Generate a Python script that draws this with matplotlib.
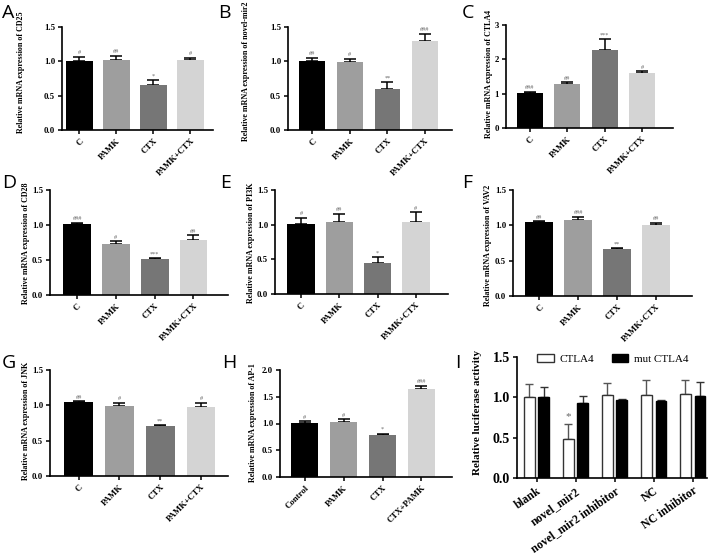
import matplotlib
matplotlib.use('Agg')
import matplotlib.pyplot as plt
import numpy as np

W, H = 714, 557

# groups and colours
groups = ['C', 'PAMK', 'CTX', 'PAMK+CTX']
groups_h = ['Control', 'PAMK', 'CTX', 'CTX+PAMK']
bar_colors = ['#000000', '#9e9e9e', '#767676', '#d4d4d4']

# mRNA expression values (mean, upper error, marks)
cd25_mean = [1.01, 1.02, 0.65, 1.02]
cd25_err = [0.06, 0.06, 0.08, 0.03]
cd25_sig = ['#', '##', '*', '#']

mir2_mean = [1.01, 0.99, 0.60, 1.30]
mir2_err = [0.04, 0.05, 0.10, 0.10]
mir2_sig = ['##', '#', '**', '###']

ctla4_mean = [1.02, 1.28, 2.27, 1.60]
ctla4_err = [0.03, 0.05, 0.31, 0.05]
ctla4_sig = ['###', '##', '***', '#']

cd28_mean = [1.01, 0.73, 0.51, 0.78]
cd28_err = [0.02, 0.04, 0.02, 0.07]
cd28_sig = ['###', '#', '***', '##']

pi3k_mean = [1.01, 1.04, 0.45, 1.04]
pi3k_err = [0.09, 0.12, 0.08, 0.14]
pi3k_sig = ['#', '##', '*', '#']

vav2_mean = [1.05, 1.07, 0.67, 1.00]
vav2_err = [0.005, 0.05, 0.005, 0.04]
vav2_sig = ['##', '###', '**', '##']

jnk_mean = [1.05, 0.99, 0.71, 0.97]
jnk_err = [0.005, 0.05, 0.01, 0.07]
jnk_sig = ['##', '#', '**', '#']

ap1_mean = [1.01, 1.02, 0.79, 1.64]
ap1_err = [0.03, 0.06, 0.02, 0.06]
ap1_sig = ['#', '#', '*', '###']

# luciferase assay
luc_groups = ['blank', 'novel_mir2', 'novel_mir2 inhibitor', 'NC', 'NC inhibitor']
luc_wt_mean = [1.00, 0.48, 1.03, 1.03, 1.04]
luc_wt_err = [0.16, 0.19, 0.15, 0.18, 0.17]
luc_mut_mean = [1.00, 0.93, 0.97, 0.96, 1.02]
luc_mut_err = [0.13, 0.09, 0.01, 0.01, 0.17]

serif = 'Liberation Serif'


def px_axes(fig, left, right, top, bottom):
    return fig.add_axes([left / W, 1 - bottom / H, (right - left) / W, (bottom - top) / H])


def style_axes(ax):
    for s in ['top', 'right']:
        ax.spines[s].set_visible(False)
    for s in ['left', 'bottom']:
        ax.spines[s].set_linewidth(1.2)
    ax.tick_params(axis='both', width=1.1, length=3, direction='out', pad=2)


fig = plt.figure(figsize=(W / 100, H / 100), dpi=100)

# panel: letter, label, mean, err, sig, names, box(px), xlim, ylim, ticks, bar width, ylabel x/y, letter pos
panels = [
    ('A', 'CD25', cd25_mean, cd25_err, cd25_sig, groups, (62, 213, 27, 130), (-0.47, 3.61), 1.5, [0, 0.5, 1.0, 1.5], 0.73, (21, 72), (2, 4)),
    ('B', 'novel-mir2', mir2_mean, mir2_err, mir2_sig, groups, (288, 452, 27, 130), (-0.65, 3.72), 1.5, [0, 0.5, 1.0, 1.5], 0.69, (246, 71), (218, 4)),
    ('C', 'CTLA4', ctla4_mean, ctla4_err, ctla4_sig, groups, (506, 673, 25, 128), (-0.64, 3.83), 3, [0, 1, 2, 3], 0.7, (489, 74), (462, 4)),
    ('D', 'CD28', cd28_mean, cd28_err, cd28_sig, groups, (50, 228, 190, 295), (-0.70, 3.89), 1.5, [0, 0.5, 1.0, 1.5], 0.72, (26, 243), (2, 174)),
    ('E', 'PI3K', pi3k_mean, pi3k_err, pi3k_sig, groups, (275, 448, 190, 294), (-0.68, 3.84), 1.5, [0, 0.5, 1.0, 1.5], 0.72, (251, 243), (220, 174)),
    ('F', 'VAV2', vav2_mean, vav2_err, vav2_sig, groups, (513, 692, 190, 296), (-0.68, 3.93), 1.5, [0, 0.5, 1.0, 1.5], 0.72, (488, 245), (462, 174)),
    ('G', 'JNK', jnk_mean, jnk_err, jnk_sig, groups, (50, 228, 370, 476), (-0.70, 3.66), 1.5, [0, 0.5, 1.0, 1.5], 0.7, (26, 421), (2, 354)),
    ('H', 'AP-1', ap1_mean, ap1_err, ap1_sig, groups_h, (280, 452, 370, 477), (-0.64, 3.79), 2.0, [0, 0.5, 1.0, 1.5, 2.0], 0.69, (253, 423), (222, 354)),
]

for letter, gene, mean, err, sig, names, box, xlim, ymax, yticks, bw, ylab, lpos in panels:
    ax = px_axes(fig, *box)
    x = np.arange(len(mean))
    ax.bar(x, mean, width=bw, color=bar_colors, edgecolor='none', zorder=2)
    ax.errorbar(x, mean, yerr=[np.zeros(len(err)), err], fmt='none', ecolor='black',
                elinewidth=1.1, capsize=4, capthick=1.1, zorder=1)
    for xi, m, e, s in zip(x, mean, err, sig):
        ax.text(xi, m + e + ymax * 0.015, s, ha='center', va='bottom', fontsize=4.5,
                color='#666666', family=serif)
    ax.set_xlim(*xlim)
    ax.set_ylim(0, ymax)
    ax.set_yticks(yticks)
    if ymax == 3:
        ax.set_yticklabels([str(t) for t in yticks])
    else:
        ax.set_yticklabels(['%.1f' % t for t in yticks])
    ax.set_xticks(x)
    ax.set_xticklabels(names, rotation=45, ha='right', rotation_mode='anchor')
    style_axes(ax)
    for lab in ax.get_xticklabels():
        lab.set_fontproperties({'family': serif, 'weight': 'bold', 'size': 6.3})
    for lab in ax.get_yticklabels():
        lab.set_fontproperties({'family': serif, 'weight': 'bold', 'size': 6.3})
    fig.text(ylab[0] / W, 1 - ylab[1] / H, 'Relative mRNA expression of ' + gene,
             rotation=90, ha='center', va='center', fontsize=5.8, fontweight='bold', family=serif)
    fig.text(lpos[0] / W, 1 - lpos[1] / H, letter, ha='left', va='top', fontsize=14, family='Open Sans')

# panel I
ax = px_axes(fig, 517, 707, 357, 478)
x = np.arange(len(luc_groups))
off = 0.19
bw = 0.28
ax.bar(x - off, luc_wt_mean, width=bw, color='white', edgecolor='#333333', linewidth=1.0, zorder=2, label='CTLA4')
ax.bar(x + off, luc_mut_mean, width=bw, color='black', edgecolor='black', linewidth=1.0, zorder=2, label='mut CTLA4')
ax.errorbar(x - off, luc_wt_mean, yerr=[np.zeros(5), luc_wt_err], fmt='none', ecolor='#555555',
            elinewidth=1.0, capsize=3, capthick=1.0, zorder=1)
ax.errorbar(x + off, luc_mut_mean, yerr=[np.zeros(5), luc_mut_err], fmt='none', ecolor='#333333',
            elinewidth=1.0, capsize=3, capthick=1.0, zorder=1)
ax.text(1 - off, luc_wt_mean[1] + luc_wt_err[1] + 0.03, '*', ha='center', va='bottom',
        fontsize=8, color='#666666', family=serif)
ax.set_xlim(-0.5, 4.37)
ax.set_ylim(0, 1.5)
ax.set_yticks([0, 0.5, 1.0, 1.5])
ax.set_yticklabels(['0.0', '0.5', '1.0', '1.5'])
ax.set_xticks(x)
ax.set_xticklabels(luc_groups, rotation=35, ha='right', rotation_mode='anchor')
style_axes(ax)
for lab in ax.get_xticklabels():
    lab.set_fontproperties({'family': serif, 'weight': 'bold', 'size': 8.5})
for lab in ax.get_yticklabels():
    lab.set_fontproperties({'family': serif, 'weight': 'bold', 'size': 10})
leg = ax.legend(loc='upper left', bbox_to_anchor=(537 / W, 1 - 354 / H), bbox_transform=fig.transFigure,
                ncol=2, frameon=False, handlelength=1.5, handleheight=0.75, columnspacing=1.6,
                handletextpad=0.5, borderaxespad=0, borderpad=0,
                prop={'family': serif, 'size': 8})
fig.text(478 / W, 1 - 412 / H, 'Relative luciferase activity', rotation=90, ha='center', va='center',
         fontsize=8, fontweight='bold', family=serif)
fig.text(455 / W, 1 - 354 / H, 'I', ha='left', va='top', fontsize=14, family='Open Sans')

fig.savefig('out.png', dpi=100)
